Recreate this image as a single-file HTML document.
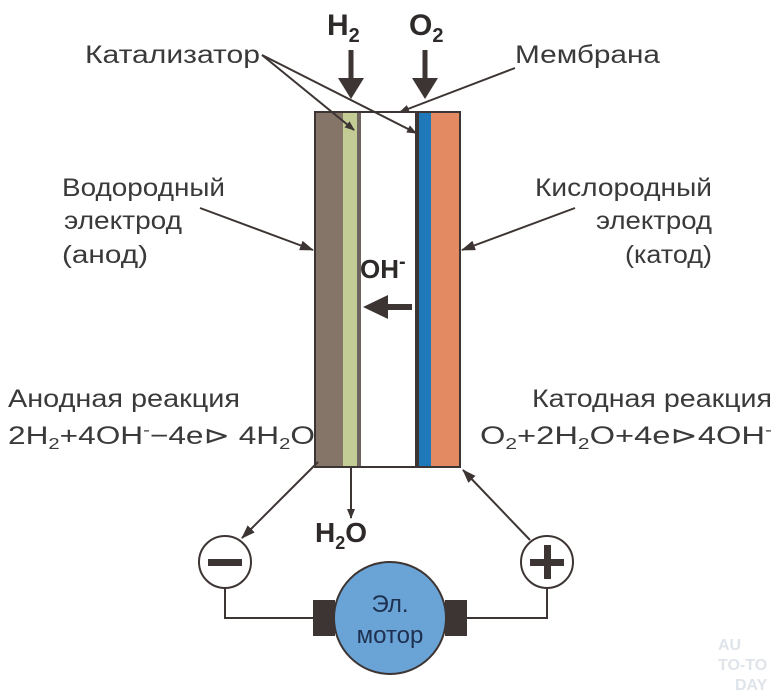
<!DOCTYPE html>
<html><head><meta charset="utf-8"><style>
html,body{margin:0;padding:0;background:#fff;}
svg{display:block;}
text{font-family:"Liberation Sans",sans-serif;fill:#3a3a3a;}
.b{font-weight:bold;fill:#2e2a2a;}
</style></head><body>
<svg width="780" height="695" viewBox="0 0 780 695" xmlns="http://www.w3.org/2000/svg">
<defs>
<marker id="a" markerWidth="10" markerHeight="8" refX="9" refY="4" orient="auto" markerUnits="userSpaceOnUse"><path d="M0,0 L10,4 L0,8 Z" fill="#3d3533"/></marker>
<marker id="a2" markerWidth="14" markerHeight="10" refX="13" refY="5" orient="auto" markerUnits="userSpaceOnUse"><path d="M0,0 L14,5 L0,10 Z" fill="#3d3533"/></marker>
</defs>
<rect x="315" y="112" width="28" height="355" fill="#857468"/>
<rect x="343" y="112" width="14" height="355" fill="#c3cc94"/>
<rect x="357" y="112" width="4" height="355" fill="#6e6460"/>
<rect x="415" y="112" width="4" height="355" fill="#3d3533"/>
<rect x="419" y="112" width="12" height="355" fill="#1f78b9"/>
<rect x="431" y="112" width="29" height="355" fill="#e48a63"/>
<rect x="315" y="112" width="145" height="355" fill="none" stroke="#3d3533" stroke-width="2"/>
<text x="327" y="35" class="b" font-size="30">H<tspan font-size="20" dy="7">2</tspan></text>
<text x="409" y="35" class="b" font-size="30">O<tspan font-size="20" dy="7">2</tspan></text>
<line x1="351" y1="50" x2="351" y2="80" stroke="#3d3533" stroke-width="5"/>
<path d="M338,78 L364,78 L351,99 Z" fill="#3d3533"/>
<line x1="425" y1="50" x2="425" y2="80" stroke="#3d3533" stroke-width="5"/>
<path d="M412,78 L438,78 L425,99 Z" fill="#3d3533"/>
<text x="85" y="63" font-size="25" textLength="175" lengthAdjust="spacingAndGlyphs">Катализатор</text>
<text x="515" y="63" font-size="25" textLength="145" lengthAdjust="spacingAndGlyphs">Мембрана</text>
<line x1="262" y1="55" x2="354" y2="130" stroke="#3d3533" stroke-width="2" marker-end="url(#a)"/>
<line x1="262" y1="55" x2="416" y2="133" stroke="#3d3533" stroke-width="2" marker-end="url(#a)"/>
<line x1="515" y1="68" x2="400" y2="112" stroke="#3d3533" stroke-width="2" marker-end="url(#a)"/>
<text x="62" y="196" font-size="25" textLength="163" lengthAdjust="spacingAndGlyphs">Водородный</text>
<text x="64" y="229" font-size="25" textLength="118" lengthAdjust="spacingAndGlyphs">электрод</text>
<text x="62" y="263" font-size="25" textLength="86" lengthAdjust="spacingAndGlyphs">(анод)</text>
<line x1="200" y1="208" x2="313" y2="250" stroke="#3d3533" stroke-width="2" marker-end="url(#a2)"/>
<text x="535" y="196" font-size="25" textLength="177" lengthAdjust="spacingAndGlyphs">Кислородный</text>
<text x="596" y="229" font-size="25" textLength="116" lengthAdjust="spacingAndGlyphs">электрод</text>
<text x="625" y="263" font-size="25" textLength="87" lengthAdjust="spacingAndGlyphs">(катод)</text>
<line x1="575" y1="208" x2="462" y2="250" stroke="#3d3533" stroke-width="2" marker-end="url(#a2)"/>
<text x="360" y="278" class="b" font-size="26">OH<tspan font-size="20" dy="-10">-</tspan></text>
<line x1="385" y1="307" x2="412" y2="307" stroke="#3d3533" stroke-width="6"/>
<path d="M363,307 L388,295 L388,319 Z" fill="#3d3533"/>
<text x="8" y="407" font-size="25" textLength="232" lengthAdjust="spacingAndGlyphs">Анодная реакция</text>
<text x="8" y="444" font-size="25" textLength="307" lengthAdjust="spacingAndGlyphs">2H<tspan font-size="16" dy="5">2</tspan><tspan dy="-5">+4OH</tspan><tspan font-size="16" dy="-9">-</tspan><tspan dy="9">−4e⊳ 4H</tspan><tspan font-size="16" dy="5">2</tspan><tspan dy="-5">O</tspan></text>
<text x="532" y="407" font-size="25" textLength="240" lengthAdjust="spacingAndGlyphs">Катодная реакция</text>
<text x="480" y="444" font-size="25" textLength="292" lengthAdjust="spacingAndGlyphs">O<tspan font-size="16" dy="5">2</tspan><tspan dy="-5">+2H</tspan><tspan font-size="16" dy="5">2</tspan><tspan dy="-5">O+4e⊳4OH</tspan><tspan font-size="16" dy="-9">-</tspan></text>
<line x1="351" y1="467" x2="351" y2="518" stroke="#3d3533" stroke-width="2" marker-end="url(#a)"/>
<text x="315" y="542" class="b" font-size="28">H<tspan font-size="18" dy="7">2</tspan><tspan dy="-7">O</tspan></text>
<line x1="318" y1="462" x2="242" y2="538" stroke="#3d3533" stroke-width="2" marker-end="url(#a2)"/>
<line x1="530" y1="540" x2="463" y2="470" stroke="#3d3533" stroke-width="2" marker-end="url(#a2)"/>
<polyline points="225,588 225,618 315,618" fill="none" stroke="#3d3533" stroke-width="2"/>
<polyline points="547,588 547,618 465,618" fill="none" stroke="#3d3533" stroke-width="2"/>
<circle cx="225" cy="562" r="26" fill="#fff" stroke="#3d3533" stroke-width="2"/>
<rect x="208" y="559" width="34" height="7" fill="#3d3533"/>
<circle cx="547" cy="562" r="26" fill="#fff" stroke="#3d3533" stroke-width="2"/>
<rect x="530" y="559" width="34" height="7" fill="#3d3533"/>
<rect x="544" y="545" width="7" height="34" fill="#3d3533"/>
<rect x="313" y="600" width="22" height="36" fill="#3d3533"/>
<rect x="445" y="600" width="22" height="36" fill="#3d3533"/>
<circle cx="390" cy="618" r="56" fill="#6aa3d6" stroke="#3d3533" stroke-width="2"/>
<text x="390" y="612" font-size="24" text-anchor="middle" style="fill:#1d3050">Эл.</text>
<text x="390" y="643" font-size="24" text-anchor="middle" style="fill:#1d3050">мотор</text>
<text x="718" y="650" font-size="16" font-weight="bold" style="fill:#dfe4ea">AU</text>
<text x="718" y="670" font-size="16" font-weight="bold" style="fill:#dfe4ea">TO-TO</text>
<text x="735" y="690" font-size="16" font-weight="bold" style="fill:#dfe4ea">DAY</text>
</svg>
</body></html>
